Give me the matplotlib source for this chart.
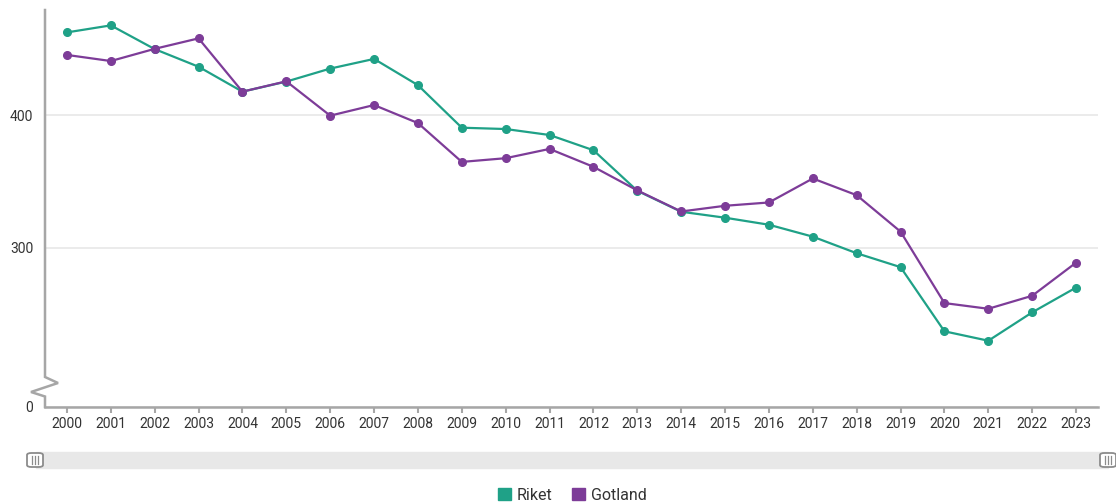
import numpy as np
import matplotlib
matplotlib.use('Agg')
import matplotlib.pyplot as plt
from matplotlib.patches import Patch, FancyBboxPatch, Rectangle
from matplotlib.lines import Line2D

plt.rcParams['font.family'] = ['Roboto', 'DejaVu Sans']

# data
years = [str(y) for y in range(2000, 2024)]
riket = [462.6, 467.9, 450.0, 436.7, 417.9, 425.5, 435.3, 442.6, 422.8, 390.7,
         389.7, 385.2, 373.7, 343.1, 327.3, 322.8, 317.5, 308.5, 296.0, 285.5,
         237.1, 230.0, 251.4, 270.1]
gotland = [445.6, 441.0, 450.2, 458.1, 417.9, 425.7, 399.8, 407.8, 394.2, 364.9,
           367.7, 374.7, 361.2, 343.4, 327.5, 331.8, 334.3, 352.4, 339.8, 312.3,
           258.4, 254.1, 263.9, 288.9]
ytick_vals = [180, 300, 400]
ytick_labels = ['0', '300', '400']

green = '#1fa187'
purple = '#7d3c98'
W, H = 1116, 504

fig = plt.figure(figsize=(W / 100, H / 100), dpi=100)
ax = fig.add_axes([45 / W, 1 - 407 / H, 1053 / W, 397 / H])

x = np.arange(len(years))
ax.plot(x, riket, color=green, lw=1.6, marker='o', ms=5.5, zorder=3)
ax.plot(x, gotland, color=purple, lw=1.6, marker='o', ms=5.5, zorder=4)

ax.set_xlim(-0.5, len(years) - 0.5)
ax.set_ylim(180, 479.5)
ax.set_xticks(x)
ax.set_xticklabels(years)
ax.set_yticks(ytick_vals)
ax.set_yticklabels(ytick_labels)
ax.grid(axis='y', color='#e8e8e8', lw=1.2, zorder=0)
ax.set_axisbelow(True)

for s in ['top', 'right', 'left']:
    ax.spines[s].set_visible(False)
ax.spines['bottom'].set_color('#a6a6a6')
ax.spines['bottom'].set_linewidth(1.8)
ax.tick_params(axis='x', length=4, width=1.5, color='#a6a6a6', labelsize=10,
               labelcolor='#333333', pad=3)
ax.tick_params(axis='y', length=0, labelsize=10, labelcolor='#333333', pad=8.5)

# left axis line with break
axw, axh = 1053.0, 397.0
def ay(py):
    return (407 - py) / axh
zx = [0, 0, 13 / axw, -14 / axw, 0, 0]
zy = [1, ay(377), ay(383), ay(392), ay(396.5), 0]
ax.add_line(Line2D(zx, zy, transform=ax.transAxes, color='#a6a6a6', lw=1.8,
                   clip_on=False, solid_joinstyle='miter'))

# scrollbar
fig.patches.append(Rectangle((36 / W, 1 - 468 / H), 1072 / W, 16 / H,
                             transform=fig.transFigure, color='#e8e8e8', zorder=1))
for hx in [27, 1100]:
    fig.patches.append(FancyBboxPatch((hx / W, 1 - 467 / H), 16 / W, 14 / H,
                                      boxstyle='round,pad=0,rounding_size=0.004',
                                      transform=fig.transFigure, facecolor='white',
                                      edgecolor='#8c8c8c', lw=1.3, zorder=2))
    for k in (-3, 0, 3):
        fig.add_artist(Line2D([(hx + 8 + k) / W] * 2, [1 - 464 / H, 1 - 456 / H],
                              transform=fig.transFigure, color='#8c8c8c', lw=0.9,
                              zorder=3))

handles = [Patch(facecolor=green, edgecolor=green, label='Riket'),
           Patch(facecolor=purple, edgecolor=purple, label='Gotland')]
fig.legend(handles=handles, loc='center', bbox_to_anchor=(572 / W, 1 - 495 / H),
           ncol=2, frameon=False, fontsize=11.5, handlelength=0.85, handleheight=0.85,
           handletextpad=0.35, columnspacing=1.2, labelcolor='#333333')

fig.savefig('out.png', dpi=100)
